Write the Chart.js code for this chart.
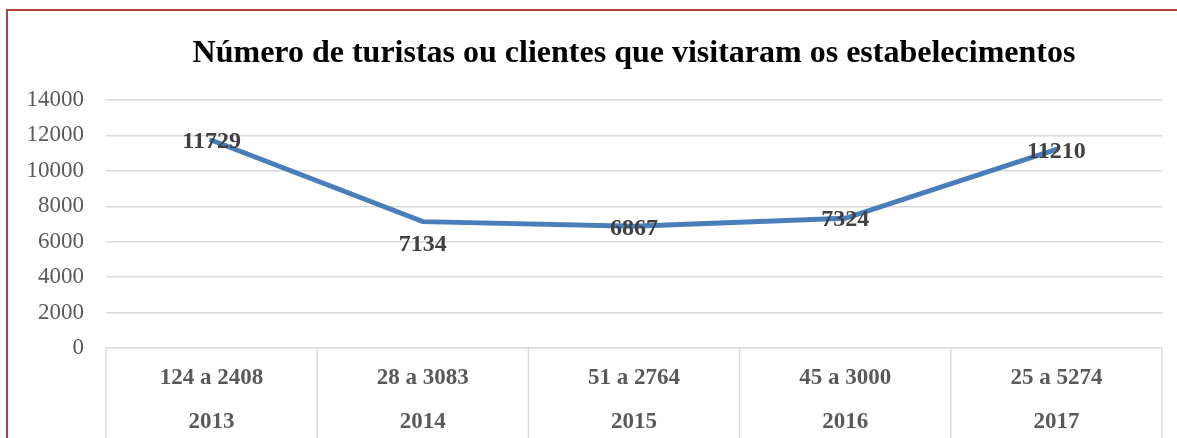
<!DOCTYPE html>
<html>
<head>
<meta charset="utf-8">
<script src="https://cdn.jsdelivr.net/npm/chart.js@4"></script>
<style>
  html, body { margin: 0; padding: 0; background: #fff; }
  #wrap { position: relative; width: 1177px; height: 438px; overflow: hidden; }
  #frame { position: absolute; left: 6px; top: 9px; width: 1171px; height: 429px;
           border-top: 2px solid #b0403c; border-left: 2px solid #b0403c; box-sizing: border-box; }
  canvas { position: absolute; left: 0; top: 0; }
</style>
</head>
<body>
<div id="wrap">
  <div id="frame"></div>
  <canvas id="grafico" width="1177" height="438"></canvas>
</div>
<script>
// dados do gráfico
const titulo = "Número de turistas ou clientes que visitaram os estabelecimentos";
const faixas = ["124 a 2408", "28 a 3083", "51 a 2764", "45 a 3000", "25 a 5274"];
const anos = ["2013", "2014", "2015", "2016", "2017"];
const visitantes = [11729, 7134, 6867, 7324, 11210];
const yTicks = [0, 2000, 4000, 6000, 8000, 10000, 12000, 14000];

const cinza = "#595959";
const serif = "'Liberation Serif', 'Times New Roman', serif";

// título centrado sobre a área do gráfico
const cabecalho = {
  id: "cabecalho",
  afterDraw(chart) {
    const ctx = chart.ctx;
    const area = chart.chartArea;
    ctx.save();
    ctx.font = "bold 32px " + serif;
    ctx.fillStyle = "#000";
    ctx.textAlign = "center";
    ctx.textBaseline = "middle";
    ctx.fillText(titulo, (area.left + area.right) / 2, area.top - 46);
    ctx.restore();
  },
};

// rótulos de dados em negrito sobre os pontos
const rotulos = {
  id: "rotulos",
  afterDatasetsDraw(chart) {
    const ctx = chart.ctx;
    const meta = chart.getDatasetMeta(0);
    ctx.save();
    ctx.font = "bold 24px " + serif;
    ctx.fillStyle = "#404040";
    ctx.textAlign = "center";
    ctx.textBaseline = "middle";
    meta.data.forEach((pt, i) => {
      // o rótulo de 2014 fica abaixo da linha
      const dy = i === 1 ? 23 : 2;
      ctx.fillText(String(visitantes[i]), pt.x, pt.y + dy);
    });
    ctx.restore();
  },
};

// linhas da tabela do eixo x
const tabela = {
  id: "tabela",
  afterDraw(chart) {
    const ctx = chart.ctx;
    const x = chart.scales.x;
    const area = chart.chartArea;
    const n = faixas.length;
    const limites = [area.left];
    for (let i = 0; i < n - 1; i++) {
      limites.push((x.getPixelForTick(i) + x.getPixelForTick(i + 1)) / 2);
    }
    limites.push(area.right);
    ctx.save();
    ctx.strokeStyle = "#d9d9d9";
    ctx.lineWidth = 1.5;
    limites.forEach((px) => {
      ctx.beginPath();
      ctx.moveTo(px, area.bottom);
      ctx.lineTo(px, chart.height);
      ctx.stroke();
    });
    ctx.restore();
  },
};

new Chart(document.getElementById("grafico"), {
  type: "line",
  data: {
    labels: faixas.map((f, i) => [f, anos[i]]),
    datasets: [
      {
        data: visitantes,
        borderColor: "#4a7ebb",
        borderWidth: 5,
        pointRadius: 0,
        tension: 0,
        borderCapStyle: "round",
      },
    ],
  },
  options: {
    responsive: false,
    animation: false,
    layout: { padding: { top: 100, right: 15, left: 0, bottom: 0 } },
    plugins: {
      legend: { display: false },
      tooltip: { enabled: false },
      title: { display: false },
    },
    scales: {
      x: {
        offset: true,
        grid: { display: false, drawTicks: false },
        border: { display: false },
        ticks: {
          color: cinza,
          padding: 8,
          maxRotation: 0,
          font: { family: serif, size: 23, weight: "bold", lineHeight: 1.92 },
        },
        afterFit(scale) { scale.height = 90; },
      },
      y: {
        min: 0,
        max: 14000,
        afterBuildTicks(scale) { scale.ticks = yTicks.map((v) => ({ value: v })); },
        grid: { color: "#d9d9d9", lineWidth: 1.5, drawTicks: false },
        border: { display: false },
        ticks: {
          color: cinza,
          padding: 22,
          callback: (v) => String(v),
          font: { family: serif, size: 23 },
        },
        afterFit(scale) { scale.width = 106; },
      },
    },
  },
  plugins: [cabecalho, rotulos, tabela],
});
</script>
</body>
</html>
